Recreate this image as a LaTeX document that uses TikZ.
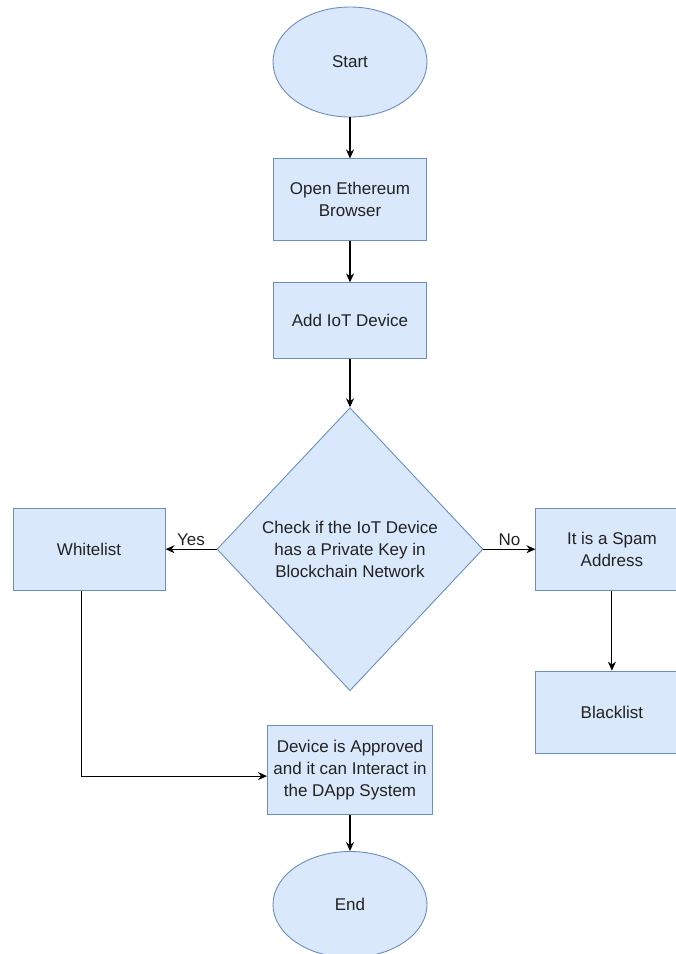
\documentclass[tikz,border=0pt]{standalone}
\usepackage{fontspec}
\setmainfont{Liberation Sans}
\usetikzlibrary{positioning,shapes.geometric,arrows.meta}

\definecolor{boxfill}{HTML}{DAE8FC}
\definecolor{boxline}{HTML}{6C8EBF}
\definecolor{inktext}{HTML}{222222}

\begin{document}
\begin{tikzpicture}[
    font=\fontsize{17}{22}\selectfont,
    every node/.style={text=inktext},
    stepbox/.style={rectangle, draw=boxline, fill=boxfill, line width=0.9pt, align=center, inner sep=2pt},
    terminal/.style={ellipse, draw=boxline, fill=boxfill, line width=0.9pt, minimum width=154pt, minimum height=110pt, inner sep=0pt},
    decision/.style={diamond, draw=boxline, fill=boxfill, line width=0.9pt, align=center, minimum width=266pt, minimum height=283pt, inner sep=0pt},
    arrow/.style={-{Stealth[length=9pt,width=8pt]}, line width=1.1pt}
]

% Frame
\useasboundingbox (0,0) rectangle (676pt,-954pt);
\clip (0,0) rectangle (676pt,-954pt);

% Nodes
\node[terminal] (start) at (350pt,-62pt) {Start};
\node[stepbox, minimum width=153pt, minimum height=82pt, below=41pt of start] (browser) {Open Ethereum\\Browser};
\node[stepbox, minimum width=153pt, minimum height=76pt, below=41pt of browser] (adddevice) {Add IoT Device};
\node[decision, below=48pt of adddevice] (check) {Check if the IoT Device\\has a Private Key in\\Blockchain Network};
\node[stepbox, minimum width=152pt, minimum height=82pt, left=51pt of check] (whitelist) {Whitelist};
\node[stepbox, minimum width=152pt, minimum height=82pt, right=52pt of check] (spam) {It is a Spam\\Address};
\node[stepbox, minimum width=152pt, minimum height=82pt, below=80pt of spam] (blacklist) {Blacklist};
\node[stepbox, minimum width=165pt, minimum height=89pt, below=34pt of check] (approved) {Device is Approved\\and it can Interact in\\the DApp System};
\node[terminal, minimum height=106pt, below=36pt of approved] (end) {End};

% Arrows
\draw[arrow] (start) -- (browser);
\draw[arrow] (browser) -- (adddevice);
\draw[arrow] (adddevice) -- (check);
\draw[arrow] (check) -- node[above] {Yes} (whitelist);
\draw[arrow] (check) -- node[above] {No} (spam);
\draw[arrow] (spam) -- (blacklist);
\draw[arrow] ([xshift=-8pt]whitelist.south) |- ([yshift=-6pt]approved.west);
\draw[arrow] (approved) -- (end);

\end{tikzpicture}
\end{document}
